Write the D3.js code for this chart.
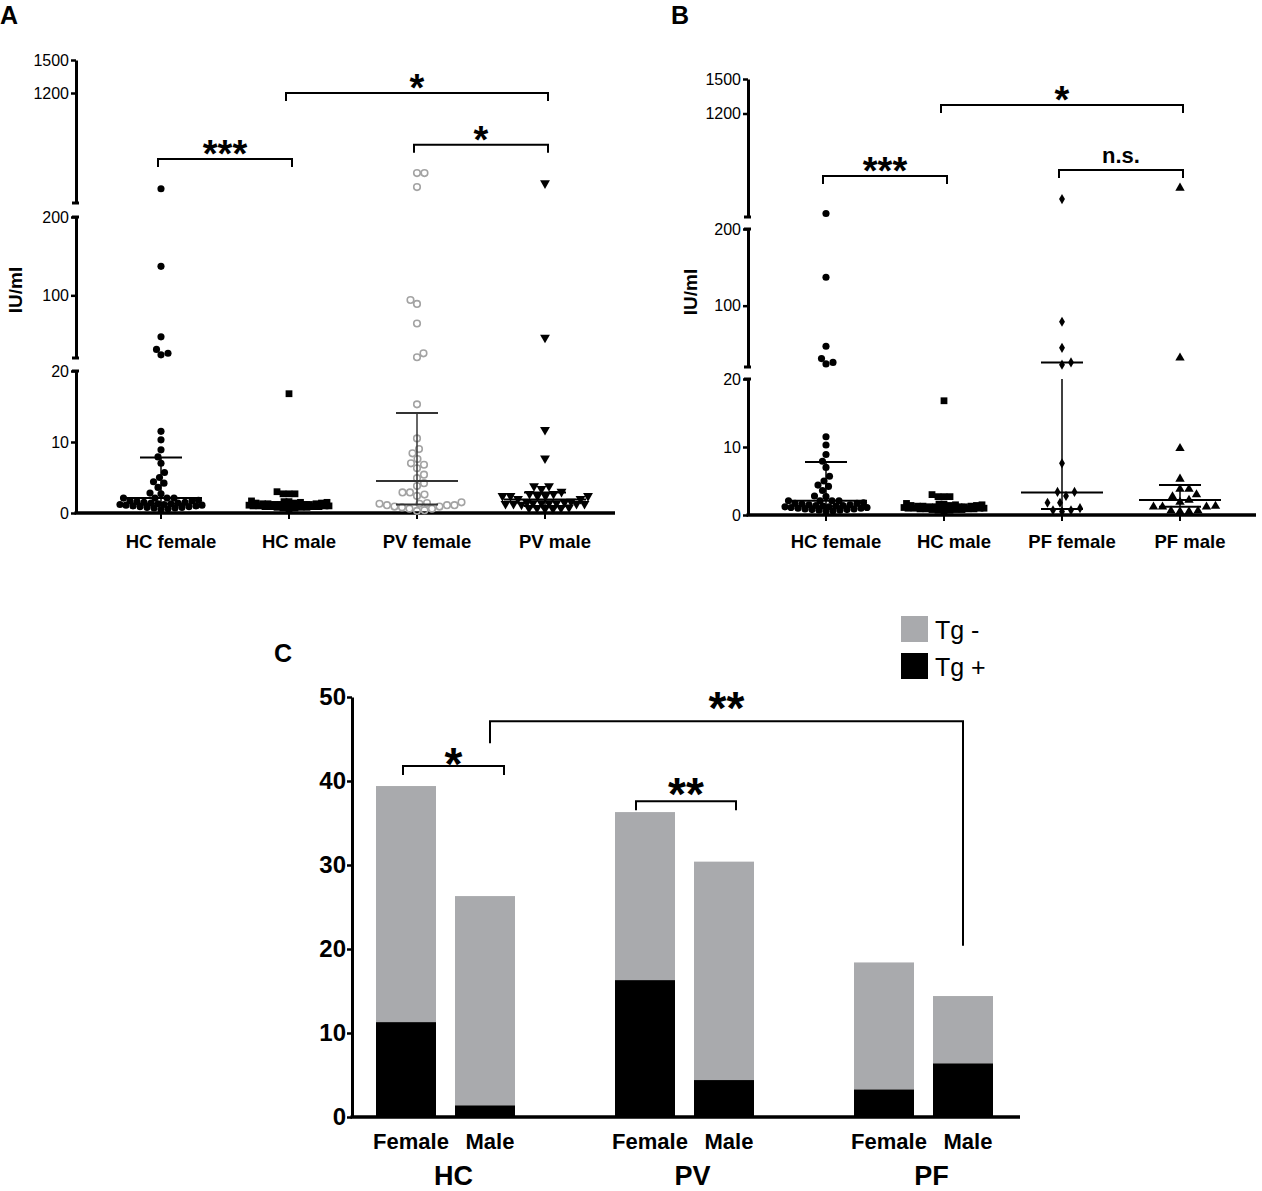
<!DOCTYPE html>
<html>
<head>
<meta charset="utf-8">
<script src="https://cdn.jsdelivr.net/npm/d3@7"></script>
<style>
body { margin: 0; background: #fff; }
svg { font-family: "Liberation Sans", Arial, sans-serif; }
</style>
</head>
<body>
<svg id="chart" width="1262" height="1191"></svg>
<script>
// ---- panel A / B data (IU/ml)
var catsA = ['HC female', 'HC male', 'PV female', 'PV male'];
var catsB = ['HC female', 'HC male', 'PF female', 'PF male'];

var hcFemale = [330, 137, 47, 31, 26, 24, 11.5, 10.3, 8.9, 7.9, 7.0, 5.7, 5.0, 4.4, 4.2, 3.6, 2.8, 2.7,
  2.1, 2.1, 2.1, 2.1, 1.8, 1.7, 1.7, 1.6, 1.5, 1.5, 1.4, 1.4, 1.3, 1.3, 1.2, 1.2, 1.1, 1.1, 1.0, 1.0,
  0.9, 0.9, 0.8, 0.8, 0.7, 0.7, 0.6, 0.5];
var hcMale = [16.8, 3.0, 2.7, 2.7, 2.7, 1.7, 1.6, 1.6, 1.5, 1.5, 1.4, 1.4, 1.4, 1.3, 1.3, 1.3, 1.2, 1.2,
  1.2, 1.2, 1.1, 1.1, 1.1, 1.1, 1.0, 1.0, 1.0, 1.0, 0.9, 0.9, 0.9, 0.9, 0.8, 0.8, 0.8, 0.7, 0.7, 0.6];
var pvFemale = [472, 472, 345, 94, 89, 64, 26, 21, 15.3, 10.5, 9.0, 8.4, 7.6, 7.0, 6.8, 6.3, 5.4, 4.9,
  4.2, 3.8, 2.9, 2.9, 2.6, 2.4, 1.5, 1.4, 1.3, 1.3, 1.1, 1.1, 1.1, 0.9, 0.9, 0.8, 0.6, 0.6, 0.4, 0.3];
var pvMale = [380, 46, 11.7, 7.7, 3.8, 3.8, 3.4, 3.0, 2.7, 2.7, 2.4, 2.4, 2.4, 2.4, 2.4, 2.0, 2.0, 1.6,
  1.5, 1.5, 1.4, 1.4, 1.4, 1.4, 1.3, 1.3, 1.3, 1.3, 1.2, 0.8, 0.7, 0.7, 0.7, 0.6, 0.6];
var pfFemale = [456, 79, 45, 26, 23, 7.6, 3.4, 3.4, 2.8, 1.8, 1.8, 1.0, 0.7, 0.5, 0.7];
var pfMale = [552, 32, 9.8, 5.3, 3.8, 3.8, 3.0, 2.7, 2.2, 1.9, 1.3, 1.2, 1.2, 1.2, 0.6, 0.5, 0.5, 0.6];

// median and interquartile bars
var medianA = [2.1, 1.2, 4.5, 1.9];
var q1A = [1.3, 0.9, 1.2, 1.0];
var q3A = [7.8, 1.5, 14.1, 2.9];
var medianB = [2.1, 1.2, 3.3, 2.2];
var q1B = [1.3, 0.9, 0.9, 1.2];
var q3B = [7.8, 1.5, 26, 4.4];

var ticksAB = [0, 10, 20, 100, 200, 1200, 1500];
var segmentsA = [[0, 20], [20, 200], [200, 1500]];
var segmentsB = [[0, 20], [20, 200], [300, 1500]];

var bracketsA = [
  {from: 0, to: 1, level: 600, label: '***'},
  {from: 1, to: 3, level: 1200, label: '*'},
  {from: 2, to: 3, level: 730, label: '*'}
];
var bracketsB = [
  {from: 0, to: 1, level: 656, label: '***'},
  {from: 1, to: 3, level: 1274, label: '*'},
  {from: 2, to: 3, level: 709, label: 'n.s.'}
];

// ---- panel C data (percent)
var groups = ['HC', 'PV', 'PF'];
var sexes = ['Female', 'Male'];
var tgPos = [[11.3, 1.4], [16.3, 4.4], [3.3, 6.4]];
var tgNeg = [[28.1, 24.9], [20.0, 26.0], [15.1, 8.0]];
var ticksC = [0, 10, 20, 30, 40, 50];
var legendLabels = {neg: 'Tg -', pos: 'Tg +'};

var svg = d3.select('#chart');

// piecewise linear scale for the broken y axis
function brokenScale(domains, ranges) {
  var parts = domains.map(function(d, i) { return d3.scaleLinear().domain(d).range(ranges[i]); });
  var f = function(v) {
    for (var i = 0; i < domains.length; i++) {
      if (v <= domains[i][1] || i == domains.length - 1) return parts[i](v);
    }
  };
  f.parts = parts;
  return f;
}

// greedy beeswarm inside a fixed half width; when it is full, points overlap
function swarm(values, y, dist, maxHalf) {
  var placed = [];
  values.slice().sort(d3.ascending).forEach(function(v, i) {
    var py = y(v), best = null, bestGap = -1, bestAt = 0;
    for (var k = 0; k <= maxHalf && best === null; k += 0.5) {
      var cands = k == 0 ? [0] : (i % 2 ? [k, -k] : [-k, k]);
      for (var j = 0; j < cands.length; j++) {
        var c = cands[j];
        var gap = d3.min(placed, function(p) {
          var dx = p.dx - c, dy = p.y - py;
          return Math.sqrt(dx * dx + dy * dy);
        });
        if (gap === undefined || gap >= dist) { best = c; break; }
        if (gap > bestGap + 0.01) { bestGap = gap; bestAt = c; }
      }
    }
    placed.push({v: v, y: py, dx: best === null ? bestAt : best});
  });
  return placed;
}

function drawBracket(g, x1, x2, yb, leg1, leg2, label, size, lift) {
  g.append('path')
    .attr('d', 'M' + x1 + ',' + (yb + leg1) + 'V' + yb + 'H' + x2 + 'V' + (yb + leg2))
    .attr('fill', 'none')
    .attr('stroke', '#000')
    .attr('stroke-width', 2);
  g.append('text')
    .attr('x', (x1 + x2) / 2)
    .attr('y', yb + lift)
    .attr('text-anchor', 'middle')
    .style('font-size', size + 'px')
    .style('font-weight', 'bold')
    .text(label);
}

function drawScatter(cfg) {
  var g = svg.append('g');
  var y = brokenScale(cfg.segments, cfg.segRanges);
  var x = d3.scalePoint().domain(cfg.cats).range(cfg.xRange);

  // y axis, one piece per segment
  cfg.segments.forEach(function(dom, i) {
    var tv = ticksAB.filter(function(t) { return t >= dom[0] && t <= dom[1] && !(i > 0 && t == dom[0]); });
    var ax = g.append('g')
      .attr('transform', 'translate(' + cfg.axisX + ',0)')
      .call(d3.axisLeft(y.parts[i]).tickValues(tv).tickFormat(d3.format('d'))
        .tickSize(5).tickSizeOuter(0).tickPadding(2));
    ax.select('.domain').attr('stroke-width', 3);
    ax.selectAll('.tick line').attr('stroke-width', 2.5);
    ax.selectAll('.tick text').style('font-size', '16px').attr('fill', '#000');
    // break caps
    cfg.segRanges[i].forEach(function(r, k) {
      if ((i == 0 && k == 0) || (i == cfg.segments.length - 1 && k == 1)) return;
      g.append('line')
        .attr('x1', cfg.axisX - 4).attr('x2', cfg.axisX + 3)
        .attr('y1', r).attr('y2', r)
        .attr('stroke', '#000').attr('stroke-width', 3);
    });
  });

  // x axis
  var y0 = y(0);
  g.append('line')
    .attr('x1', cfg.axisX - 1.5).attr('x2', cfg.baseRight)
    .attr('y1', y0).attr('y2', y0)
    .attr('stroke', '#000').attr('stroke-width', 3.5);
  g.selectAll('.xtick').data(cfg.cats).enter().append('line')
    .attr('x1', function(d) { return x(d); }).attr('x2', function(d) { return x(d); })
    .attr('y1', y0).attr('y2', y0 + 6)
    .attr('stroke', '#000').attr('stroke-width', 2);
  g.selectAll('.xlabel').data(cfg.cats).enter().append('text')
    .attr('x', function(d) { return x(d) + 10; })
    .attr('y', cfg.labelY)
    .attr('text-anchor', 'middle')
    .style('font-size', '18.5px')
    .style('font-weight', 'bold')
    .text(function(d) { return d; });

  // points
  cfg.series.forEach(function(vals, i) {
    var m = cfg.markers[i];
    var pts = swarm(vals, y, m.dist, m.half);
    var cx = x(cfg.cats[i]);
    g.append('g').selectAll('path').data(pts).enter().append('path')
      .attr('d', d3.symbol().type(m.type).size(m.size))
      .attr('transform', function(d) {
        return 'translate(' + (cx + d.dx) + ',' + d.y + ')' + (m.flip ? ' rotate(180)' : '');
      })
      .attr('fill', m.fill)
      .attr('stroke', m.stroke || 'none')
      .attr('stroke-width', m.strokeWidth || 0);
  });

  // median + IQR
  cfg.cats.forEach(function(c, i) {
    var cx = x(c), col = cfg.markers[i].bar || '#000';
    cfg.segments.forEach(function(dom, s) {
      var lo = Math.max(cfg.q1[i], dom[0]), hi = Math.min(cfg.q3[i], dom[1]);
      if (hi <= lo) return;
      g.append('line')
        .attr('x1', cx).attr('x2', cx)
        .attr('y1', y.parts[s](lo)).attr('y2', y.parts[s](hi))
        .attr('stroke', col).attr('stroke-width', 1.5);
    });
    [[cfg.median[i], 41], [cfg.q1[i], 21], [cfg.q3[i], 21]].forEach(function(b) {
      g.append('line')
        .attr('x1', cx - b[1]).attr('x2', cx + b[1])
        .attr('y1', y(b[0])).attr('y2', y(b[0]))
        .attr('stroke', col).attr('stroke-width', 2);
    });
  });

  // y title
  g.append('text')
    .attr('transform', 'translate(' + cfg.titleX + ',' + cfg.titleY + ') rotate(-90)')
    .attr('text-anchor', 'middle')
    .style('font-size', '19px')
    .style('font-weight', 'bold')
    .text('IU/ml');

  // significance brackets
  cfg.brackets.forEach(function(b) {
    var big = b.label != 'n.s.';
    drawBracket(g, x(cfg.cats[b.from]) - 3, x(cfg.cats[b.to]) + 3, y(b.level), 8, 8,
      b.label, big ? 38 : 22, big ? 8 : -7);
  });

  g.append('text')
    .attr('x', cfg.letterX).attr('y', 24)
    .style('font-size', '25px').style('font-weight', 'bold')
    .text(cfg.letter);
}

var blackDot = {type: d3.symbolCircle, size: 40, fill: '#000', dist: 7, half: 41};
var blackSquare = {type: d3.symbolSquare, size: 46, fill: '#000', dist: 6, half: 40};

drawScatter({
  letter: 'A', letterX: 0,
  cats: catsA,
  series: [hcFemale, hcMale, pvFemale, pvMale],
  median: medianA, q1: q1A, q3: q3A,
  segments: segmentsA,
  segRanges: [[513, 371], [358, 217], [203, 60]],
  axisX: 76, xRange: [161, 545], baseRight: 615, labelY: 548,
  titleX: 22, titleY: 290,
  brackets: bracketsA,
  markers: [
    blackDot,
    blackSquare,
    {type: d3.symbolCircle, size: 34, fill: 'none', stroke: '#a3a3a3', strokeWidth: 1.6, dist: 7.5, half: 45, bar: '#333'},
    {type: d3.symbolTriangle, size: 42, fill: '#000', flip: true, dist: 8, half: 43}
  ]
});

drawScatter({
  letter: 'B', letterX: 671,
  cats: catsB,
  series: [hcFemale, hcMale, pfFemale, pfMale],
  median: medianB, q1: q1B, q3: q3B,
  segments: segmentsB,
  segRanges: [[515, 379], [367, 229], [217, 79]],
  axisX: 748, xRange: [826, 1180], baseRight: 1256, labelY: 548,
  titleX: 697, titleY: 292,
  brackets: bracketsB,
  markers: [
    blackDot,
    blackSquare,
    {type: d3.symbolDiamond, size: 30, fill: '#000', dist: 9, half: 36},
    {type: d3.symbolTriangle, size: 38, fill: '#000', dist: 9, half: 40}
  ]
});

// ---- panel C: stacked bars
var gc = svg.append('g');
var yC = d3.scaleLinear().domain([0, 50]).range([1117, 697]);
var xG = d3.scalePoint().domain(groups).range([445.5, 923.5]);
var xS = d3.scalePoint().domain(sexes).range([-39.5, 39.5]);
var barW = 60;
var colorC = {pos: '#000', neg: '#a9aaad'};

var rowsC = [];
groups.forEach(function(gr, i) {
  sexes.forEach(function(sx, j) {
    rowsC.push({group: gr, sex: sx, pos: tgPos[i][j], neg: tgNeg[i][j]});
  });
});
var stacked = d3.stack().keys(['pos', 'neg'])(rowsC);

gc.selectAll('.layer').data(stacked).enter().append('g')
  .attr('fill', function(d) { return colorC[d.key]; })
  .selectAll('rect').data(function(d) { return d; }).enter().append('rect')
  .attr('x', function(d) { return xG(d.data.group) + xS(d.data.sex) - barW / 2; })
  .attr('width', barW)
  .attr('y', function(d) { return yC(d[1]); })
  .attr('height', function(d) { return yC(d[0]) - yC(d[1]); });

var axC = gc.append('g')
  .attr('transform', 'translate(352,0)')
  .call(d3.axisLeft(yC).tickValues(ticksC).tickSize(5).tickSizeOuter(0).tickPadding(1));
axC.select('.domain').attr('stroke-width', 3);
axC.selectAll('.tick line').attr('stroke-width', 2.5);
axC.selectAll('.tick text').style('font-size', '24px').style('font-weight', 'bold').attr('fill', '#000');

gc.append('line')
  .attr('x1', 350.5).attr('x2', 1020)
  .attr('y1', yC(0)).attr('y2', yC(0))
  .attr('stroke', '#000').attr('stroke-width', 3.5);

rowsC.forEach(function(d) {
  gc.append('text')
    .attr('x', xG(d.group) + xS(d.sex) + 5)
    .attr('y', 1149)
    .attr('text-anchor', 'middle')
    .style('font-size', '22px').style('font-weight', 'bold')
    .text(d.sex);
});
groups.forEach(function(gr) {
  gc.append('text')
    .attr('x', xG(gr) + 8)
    .attr('y', 1185)
    .attr('text-anchor', 'middle')
    .style('font-size', '27px').style('font-weight', 'bold')
    .text(gr);
});

// brackets in C
function barX(gr, sx) { return xG(gr) + xS(sx); }
drawBracket(gc, barX('HC', 'Female') - 3, barX('HC', 'Male') + 19, yC(41.8), 9, 9, '*', 46, 14);
drawBracket(gc, barX('PV', 'Female') - 9, barX('PV', 'Male') + 12, yC(37.6), 9, 9, '**', 46, 9);
drawBracket(gc, barX('HC', 'Male') + 5, barX('PF', 'Male'), yC(47.1),
  yC(44.5) - yC(47.1), yC(20.4) - yC(47.1), '**', 46, 3);

// legend
var legend = gc.selectAll('.legend').data(['neg', 'pos']).enter().append('g')
  .attr('transform', function(d, i) { return 'translate(901,' + (616 + i * 37) + ')'; });
legend.append('rect')
  .attr('width', 27).attr('height', 26)
  .attr('fill', function(d) { return colorC[d]; });
legend.append('text')
  .attr('x', 34).attr('y', 23)
  .style('font-size', '25px')
  .text(function(d) { return legendLabels[d]; });

gc.append('text')
  .attr('x', 274).attr('y', 662)
  .style('font-size', '25px').style('font-weight', 'bold')
  .text('C');
</script>
</body>
</html>
